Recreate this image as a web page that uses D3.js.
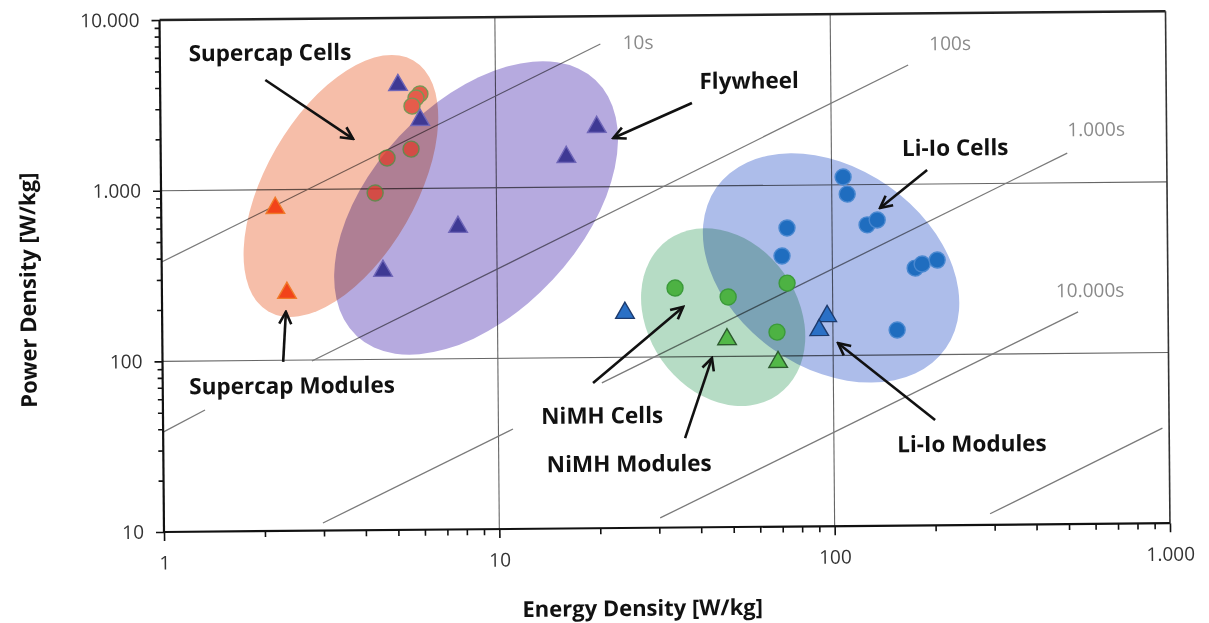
<!DOCTYPE html>
<html>
<head>
<meta charset="utf-8">
<script src="https://cdn.jsdelivr.net/npm/d3@7"></script>
<style>
  body { margin: 0; background: #fff; }
  svg { display: block; }
</style>
</head>
<body>
<svg id="chart" width="1209" height="623"></svg>
<script>
// ---- data ----
const xDecades = [1, 10, 100, 1000];
const yDecades = [10, 100, 1000, 10000];

// [energy density, power density]
const supercapCells   = [[5.95, 3576], [5.79, 3388], [5.63, 3040], [5.58, 1702], [4.73, 1514], [4.35, 946]];
const supercapModules = [[2.19, 781], [2.36, 248]];
const flywheel        = [[5.12, 4045], [5.95, 2518], [16.2, 1502], [20.0, 2243], [7.67, 592], [4.57, 330]];
const liIoCells       = [[108.2, 1110], [111.2, 881], [73.4, 562], [70.8, 385], [127.2, 580], [136.4, 619],
                         [176.5, 322], [185.2, 340], [205.4, 358], [155.4, 140]];
const liIoModules     = [[24.0, 182], [96.2, 170], [91.0, 141]];
const nimhCells       = [[33.9, 253], [48.8, 223], [73.2, 267], [68.1, 138]];
const nimhModules     = [[48.3, 126], [68.5, 92.1]];

// region ellipses: centre in data units
const regionNames   = ["Supercap", "Flywheel", "Li-Io", "NiMH"];
const regionCentres = [[3.44, 1043], [8.69, 763], [99.1, 326], [47.1, 170]];

// discharge-time guide lines, segments as [[E0, P0], [E1, P1]]
const timeLabels   = ["10s", "100s", "1.000s", "10.000s", ""];
const timeLabelAt  = [[26.7, 7031], [227.5, 6679], [617, 2061], [586, 235], null];
const timeSegments = [
  [[[1, 382], [20.6, 6871]]],
  [[[1, 38.5], [1.335, 51.6]], [[2.79, 98.7], [170.3, 4988]]],
  [[[2.98, 11.08], [11.05, 38.5]], [[20.4, 71], [505, 1493]]],
  [[[30.2, 11.4], [539, 175]]],
  [[[291, 11.6], [955, 36.1]]]
];

// annotations
const noteText  = ["Supercap Cells", "Flywheel", "Li-Io Cells", "Supercap Modules", "NiMH Cells", "NiMH Modules", "Li-Io Modules"];
const noteAt    = [[2.13, 6412], [57.1, 4154], [234, 1642], [2.43, 71.6], [20.4, 46.1], [24.5, 24.0], [258, 30.2]];
const arrowFrom = [[2.06, 4395], [38.5, 3067], [192.8, 1207], [2.29, 97.8], [19.2, 71.0], [36.0, 33.4], [200.6, 41.4]];
const arrowTo   = [[3.75, 1965], [22.4, 1931], [139.2, 727], [2.34, 192], [35.8, 196], [43.5, 98.0], [103.5, 118]];

// ---- chart ----
const plot = { left: 164, right: 1170, top: 20, bottom: 532 };

// the original figure is a slightly tilted scan
const svg = d3.select("#chart")
  .append("g")
  .attr("transform", `rotate(-0.5, ${plot.left}, ${plot.bottom})`);

const x = d3.scaleLog().domain([1, 1000]).range([plot.left, plot.right]);
const y = d3.scaleLog().domain([10, 10000]).range([plot.bottom, plot.top]);

const fmt = d3.formatLocale({ decimal: ",", thousands: ".", grouping: [3], currency: ["", ""] }).format(",");

const regionStyle = [
  { fill: "#f6bea9", rx: 145, ry: 75, angle: -59.5 },
  { fill: "#b6aadf", rx: 175, ry: 105, angle: -46.5 },
  { fill: "#adbdea", rx: 140, ry: 100, angle: 35.5 },
  { fill: "#b6dcc5", rx: 95, ry: 75, angle: 55.5 }
];

const seriesStyle = {
  supercapCells:   { shape: "circle",   fill: "#e03c2c", stroke: "#4f8a3a", opacity: 0.75 },
  supercapModules: { shape: "triangle", fill: "#f2431a", stroke: "#f07a2a", opacity: 1 },
  flywheel:        { shape: "triangle", fill: "#3e3994", stroke: "#6f66b8", opacity: 1 },
  liIoCells:       { shape: "circle",   fill: "#1f6dbf", stroke: "#4a88d0", opacity: 1 },
  liIoModules:     { shape: "triangle", fill: "#2a70c6", stroke: "#1d3b6e", opacity: 1 },
  nimhCells:       { shape: "circle",   fill: "#4db243", stroke: "#3b9a3a", opacity: 1 },
  nimhModules:     { shape: "triangle", fill: "#52b848", stroke: "#2c5a2e", opacity: 1 }
};

d3.select("#chart").append("defs").append("marker")
  .attr("id", "head")
  .attr("viewBox", "0 0 16 16")
  .attr("refX", 14).attr("refY", 8)
  .attr("markerWidth", 16).attr("markerHeight", 16)
  .attr("markerUnits", "userSpaceOnUse")
  .attr("orient", "auto")
  .append("path")
  .attr("d", "M2,2 L14,8 L2,14")
  .attr("fill", "none")
  .attr("stroke", "#111")
  .attr("stroke-width", 2.6);

// grid lines
const grid = svg.append("g");
grid.selectAll(".vgrid").data(xDecades.slice(1, -1)).join("line")
  .attr("x1", d => x(d)).attr("x2", d => x(d))
  .attr("y1", plot.top).attr("y2", plot.bottom)
  .attr("stroke", "#666").attr("stroke-width", 1.1);
grid.selectAll(".hgrid").data(yDecades.slice(1, -1)).join("line")
  .attr("x1", plot.left).attr("x2", plot.right)
  .attr("y1", d => y(d)).attr("y2", d => y(d))
  .attr("stroke", "#666").attr("stroke-width", 1.1);

// discharge time lines
const timeG = svg.append("g");
timeSegments.forEach((segs, i) => {
  segs.forEach(seg => {
    timeG.append("line")
      .attr("x1", x(seg[0][0])).attr("y1", y(seg[0][1]))
      .attr("x2", x(seg[1][0])).attr("y2", y(seg[1][1]))
      .attr("stroke", "#7a7a7a").attr("stroke-width", 1.3);
  });
  if (timeLabelAt[i]) {
    timeG.append("text")
      .attr("x", x(timeLabelAt[i][0])).attr("y", y(timeLabelAt[i][1]))
      .attr("text-anchor", "middle").attr("dominant-baseline", "central")
      .attr("font-family", "Open Sans").attr("font-size", 19)
      .attr("fill", "#8a8a8a")
      .text(timeLabels[i]);
  }
});

function drawRegion(i) {
  const s = regionStyle[i];
  const c = regionCentres[i];
  svg.append("ellipse")
    .attr("class", "region " + regionNames[i])
    .attr("transform", `translate(${x(c[0])},${y(c[1])}) rotate(${s.angle})`)
    .attr("rx", s.rx).attr("ry", s.ry)
    .attr("fill", s.fill)
    .style("mix-blend-mode", "multiply");
}

function drawSeries(data, key) {
  const st = seriesStyle[key];
  const g = svg.append("g").attr("class", key).attr("opacity", st.opacity);
  if (st.shape === "circle") {
    g.selectAll("circle").data(data).join("circle")
      .attr("cx", d => x(d[0])).attr("cy", d => y(d[1]))
      .attr("r", 8)
      .attr("fill", st.fill).attr("stroke", st.stroke).attr("stroke-width", 1.4);
  } else {
    const tri = d3.symbol(d3.symbolTriangle, 150);
    g.selectAll("path").data(data).join("path")
      .attr("transform", d => `translate(${x(d[0])},${y(d[1])})`)
      .attr("d", tri)
      .attr("fill", st.fill).attr("stroke", st.stroke).attr("stroke-width", 1.4);
  }
}

drawRegion(0);
drawRegion(1);
drawSeries(supercapCells, "supercapCells");
drawSeries(supercapModules, "supercapModules");
drawSeries(flywheel, "flywheel");
drawRegion(2);
drawRegion(3);
drawSeries(liIoCells, "liIoCells");
drawSeries(liIoModules, "liIoModules");
drawSeries(nimhCells, "nimhCells");
drawSeries(nimhModules, "nimhModules");

// axes
const xAll = [], yAll = [];
for (let p = 0; p < 3; p++) for (let m = 1; m < 10; m++) xAll.push(m * Math.pow(10, p));
xAll.push(1000);
for (let p = 1; p < 4; p++) for (let m = 1; m < 10; m++) yAll.push(m * Math.pow(10, p));
yAll.push(10000);
const isDecade = d => Math.abs(Math.log10(d) - Math.round(Math.log10(d))) < 1e-9;

const xAxisG = svg.append("g")
  .attr("transform", `translate(0,${plot.bottom})`)
  .call(d3.axisBottom(x).tickValues(xAll).tickSize(6).tickPadding(18)
    .tickFormat(d => isDecade(d) ? fmt(d) : ""));
const yAxisG = svg.append("g")
  .attr("transform", `translate(${plot.left},0)`)
  .call(d3.axisLeft(y).tickValues(yAll).tickSize(5).tickPadding(15)
    .tickFormat(d => isDecade(d) ? fmt(d) : ""));

[xAxisG, yAxisG].forEach(g => {
  g.select(".domain").remove();
  g.selectAll("line").attr("stroke", "#111").attr("stroke-width", 1.6);
  g.selectAll("text")
    .attr("font-family", "Open Sans").attr("font-size", 19)
    .attr("fill", "#333");
});
xAxisG.selectAll(".tick").filter(d => isDecade(d)).select("line").attr("y2", 9);
yAxisG.selectAll(".tick").filter(d => isDecade(d)).select("line").attr("x2", -8);

// frame
const frame = svg.append("g").attr("fill", "none");
frame.append("line").attr("x1", plot.left).attr("x2", plot.right).attr("y1", plot.top).attr("y2", plot.top)
  .attr("stroke", "#222").attr("stroke-width", 2.4);
frame.append("line").attr("x1", plot.right).attr("x2", plot.right).attr("y1", plot.top).attr("y2", plot.bottom)
  .attr("stroke", "#333").attr("stroke-width", 1.6);
frame.append("line").attr("x1", plot.left).attr("x2", plot.right).attr("y1", plot.bottom).attr("y2", plot.bottom)
  .attr("stroke", "#111").attr("stroke-width", 2.2);
frame.append("line").attr("x1", plot.left).attr("x2", plot.left).attr("y1", plot.top).attr("y2", plot.bottom)
  .attr("stroke", "#111").attr("stroke-width", 2.2);

// annotations
const notes = svg.append("g");
noteText.forEach((t, i) => {
  notes.append("line")
    .attr("x1", x(arrowFrom[i][0])).attr("y1", y(arrowFrom[i][1]))
    .attr("x2", x(arrowTo[i][0])).attr("y2", y(arrowTo[i][1]))
    .attr("stroke", "#111").attr("stroke-width", 2.6)
    .attr("marker-end", "url(#head)");
  notes.append("text")
    .attr("x", x(noteAt[i][0])).attr("y", y(noteAt[i][1]))
    .attr("text-anchor", "middle").attr("dominant-baseline", "central")
    .attr("font-family", "Open Sans").attr("font-weight", 700).attr("font-size", 22.5)
    .attr("fill", "#111")
    .text(t);
});

// axis titles
svg.append("text")
  .attr("x", 642).attr("y", 611)
  .attr("text-anchor", "middle").attr("dominant-baseline", "central")
  .attr("font-family", "Open Sans").attr("font-weight", 700).attr("font-size", 22)
  .attr("fill", "#111")
  .text("Energy Density [W/kg]");
svg.append("text")
  .attr("transform", "translate(29,289) rotate(-90)")
  .attr("text-anchor", "middle").attr("dominant-baseline", "central")
  .attr("font-family", "Open Sans").attr("font-weight", 700).attr("font-size", 22)
  .attr("fill", "#111")
  .text("Power Density [W/kg]");
</script>
</body>
</html>
